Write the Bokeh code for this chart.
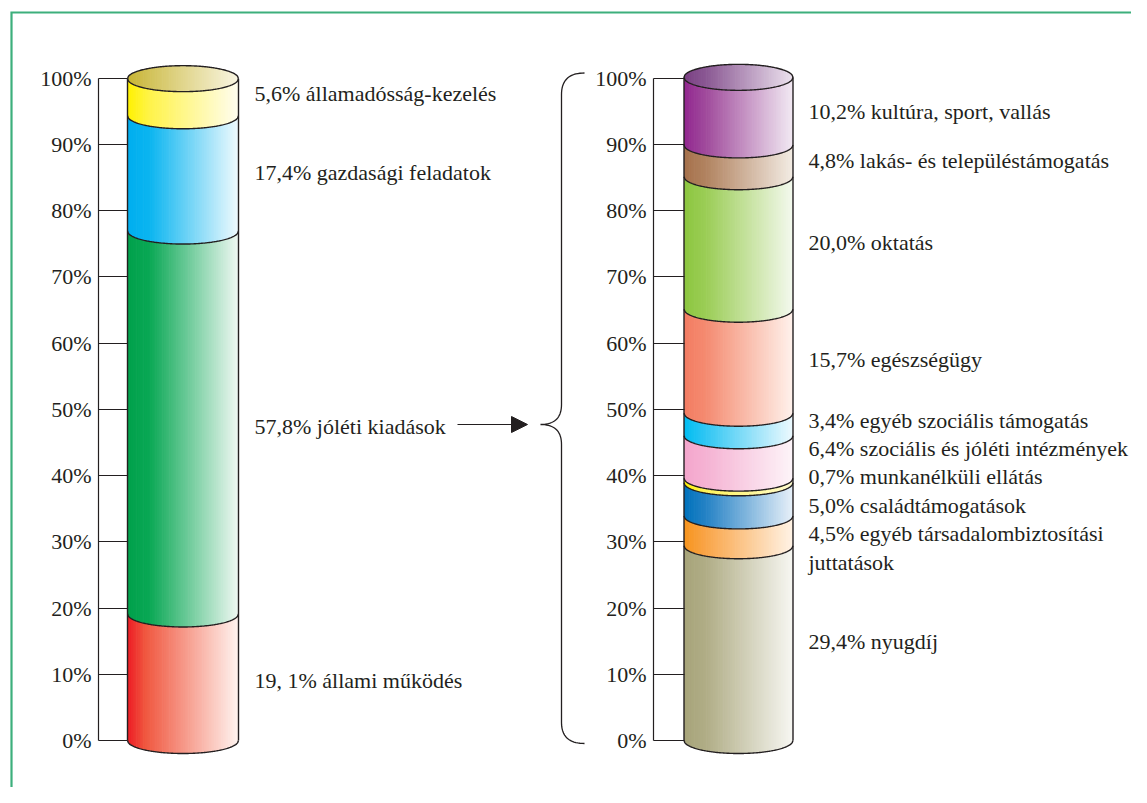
import numpy as np
from bokeh.plotting import figure
from bokeh.models import Range1d, LinearAxis, FixedTicker, Arrow, NormalHead
from bokeh.core.properties import value
from bokeh.embed import file_html
from bokeh.resources import INLINE

# ---------------- data ----------------
left_categories = ["állami működés", "jóléti kiadások", "gazdasági feladatok", "államadósság-kezelés"]
left_values = [19.1, 57.8, 17.4, 5.6]
left_labels = ["19, 1% állami működés", "57,8% jóléti kiadások",
               "17,4% gazdasági feladatok", "5,6% államadósság-kezelés"]

right_categories = ["nyugdíj", "egyéb társadalombiztosítási juttatások", "családtámogatások",
                    "munkanélküli ellátás", "szociális és jóléti intézmények",
                    "egyéb szociális támogatás", "egészségügy", "oktatás",
                    "lakás- és településtámogatás", "kultúra, sport, vallás"]
right_values = [29.4, 4.5, 5.0, 0.7, 6.4, 3.4, 15.7, 20.0, 4.8, 10.2]
right_labels = ["29,4% nyugdíj", "4,5% egyéb társadalombiztosítási\njuttatások",
                "5,0% családtámogatások", "0,7% munkanélküli ellátás",
                "6,4% szociális és jóléti intézmények", "3,4% egyéb szociális támogatás",
                "15,7% egészségügy", "20,0% oktatás", "4,8% lakás- és településtámogatás",
                "10,2% kultúra, sport, vallás"]

tick_values = [0, 10, 20, 30, 40, 50, 60, 70, 80, 90, 100]
tick_labels = ["0%", "10%", "20%", "30%", "40%", "50%", "60%", "70%", "80%", "90%", "100%"]

# ---------------- styles / layout ----------------
left_grads = [
    [(0, "#ed1c24"), (0.16, "#f0573f"), (1, "#fff4f0")],
    [(0, "#00a14b"), (0.2, "#0aa855"), (1, "#f0f8f3")],
    [(0, "#00aeef"), (0.2, "#0bb5f0"), (1, "#f0fafe")],
    [(0, "#fff200"), (0.2, "#fff34a"), (1, "#fffdf0")],
]
left_cap = [(0, "#c8b432"), (0.2, "#d2c259"), (1, "#f9f6e2")]

right_grads = [
    [(0, "#a7a47a"), (0.2, "#b0ad86"), (1, "#f7f7f2")],
    [(0, "#f7941d"), (0.2, "#f9a548"), (1, "#fff3e6")],
    [(0, "#0072bc"), (0.2, "#2582c5"), (1, "#e8f0f9")],
    [(0, "#fff200"), (0.2, "#fff35a"), (1, "#fffbd0")],
    [(0, "#f4a6cc"), (0.2, "#f5b2d3"), (1, "#fdf5f9")],
    [(0, "#00bdf2"), (0.2, "#30c6f3"), (1, "#eef9fe")],
    [(0, "#f37c62"), (0.2, "#f48b71"), (1, "#fff2ec")],
    [(0, "#8cc63f"), (0.2, "#9bcd56"), (1, "#f4f9ee")],
    [(0, "#a6714c"), (0.2, "#b18360"), (1, "#f3ece4")],
    [(0, "#92278f"), (0.2, "#a04b9c"), (1, "#f2eaf3")],
]
right_cap = [(0, "#7a3f83"), (0.2, "#8a5893"), (1, "#ece2ee")]

INK = "#231f20"
FONT = "Liberation Serif"
FSIZE = "22px"

W, H = 1131, 787
Y0_PX, Y100_PX = 740.0, 77.5
PX_PER_PCT = (Y0_PX - Y100_PX) / 100.0


def pct_at(py):
    return (Y0_PX - py) / PX_PER_PCT


RY = 13.0 / PX_PER_PCT

p = figure(width=W, height=H, output_backend="svg", toolbar_location=None,
           x_range=Range1d(0, W), y_range=Range1d(pct_at(H), pct_at(0)),
           x_axis_type=None, y_axis_type=None, min_border=0)
p.outline_line_color = None
p.background_fill_color = "white"
p.border_fill_color = "white"

# green frame
p.line([11, 11, W + 5], [pct_at(H + 5), pct_at(12), pct_at(12)],
       line_color="#3daf7c", line_width=2.2, line_join="miter")


def hex2rgb(h):
    h = h.lstrip("#")
    return np.array([int(h[i:i + 2], 16) for i in (0, 2, 4)], dtype=float)


def grad_color(stops, t):
    for (p0, c0), (p1, c1) in zip(stops[:-1], stops[1:]):
        if t <= p1:
            f = (t - p0) / (p1 - p0) if p1 > p0 else 0
            c = hex2rgb(c0) * (1 - f) + hex2rgb(c1) * f
            return "#%02x%02x%02x" % tuple(int(round(v)) for v in c)
    return stops[-1][1]


def draw_cylinder(cx, rx, values, grads, cap, n=64):
    cum = np.concatenate([[0.0], np.cumsum(values)])
    top = cum[-1]
    edges = np.linspace(cx - rx, cx + rx, n + 1)

    def sag(x):
        return RY * np.sqrt(np.clip(1 - ((x - cx) / rx) ** 2, 0, 1))

    pxs, pys, cols = [], [], []
    for i in range(len(values)):
        lo, hi = cum[i], cum[i + 1]
        for k in range(n):
            x0 = edges[k]
            x1 = min(edges[k + 1] + 0.7, cx + rx)
            t = (k + 0.5) / n
            pxs.append([x0, x1, x1, x0])
            pys.append([lo - sag(x0), lo - sag(x1), hi - sag(x1), hi - sag(x0)])
            cols.append(grad_color(grads[i], t))
    # top cap (full ellipse)
    for k in range(n):
        x0 = edges[k]
        x1 = min(edges[k + 1] + 0.7, cx + rx)
        t = (k + 0.5) / n
        pxs.append([x0, x1, x1, x0])
        pys.append([top - sag(x0), top - sag(x1), top + sag(x1), top + sag(x0)])
        cols.append(grad_color(cap, t))
    p.patches(pxs, pys, fill_color=cols, line_color=None)

    # outlines
    xf = np.linspace(cx - rx, cx + rx, 120)
    arcs_x, arcs_y = [], []
    for v in cum:
        arcs_x.append(xf)
        arcs_y.append(v - sag(xf))
    arcs_x.append(xf)
    arcs_y.append(top + sag(xf))
    arcs_x.append([cx - rx, cx - rx])
    arcs_y.append([0, top])
    arcs_x.append([cx + rx, cx + rx])
    arcs_y.append([0, top])
    p.multi_line(arcs_x, arcs_y, line_color=INK, line_width=1.4)


draw_cylinder(182.5, 55.5, left_values, left_grads, left_cap)
draw_cylinder(738.0, 54.5, right_values, right_grads, right_cap)

# labels (pixel y-positions are layout)
left_label_py = [680, 426, 172, 93]
right_label_py = [641, 533, 505, 476, 448, 420, 359, 242, 160, 111]
LINE_GAP = 29


def place_labels(x, labels, pys):
    tx, ty, tt = [], [], []
    for lab, py in zip(labels, pys):
        for j, line in enumerate(lab.split("\n")):
            tx.append(x)
            ty.append(pct_at(py + j * LINE_GAP))
            tt.append(line)
    p.text(tx, ty, text=tt, text_font=value(FONT), text_font_size=value(FSIZE),
           text_color=INK, text_baseline="middle", text_align="left")


place_labels(254, left_labels, left_label_py)
place_labels(808, right_labels, right_label_py)

# axes
for xloc, tick_in in ((98, 29), (653, 31)):
    ax = LinearAxis(fixed_location=xloc, bounds=(0, 100), ticker=FixedTicker(ticks=tick_values),
                    major_label_overrides=dict(zip(tick_values, tick_labels)))
    ax.major_tick_in = tick_in
    ax.major_tick_out = 0
    ax.minor_tick_in = 0
    ax.minor_tick_out = 0
    ax.axis_line_color = INK
    ax.axis_line_width = 1.2
    ax.major_tick_line_color = INK
    ax.major_tick_line_width = 1.2
    ax.major_label_standoff = 7
    ax.major_label_text_font = FONT
    ax.major_label_text_font_size = FSIZE
    ax.major_label_text_color = INK
    p.add_layout(ax, "left")

# arrow from the "jóléti kiadások" label
arrow_y = pct_at(424)
p.add_layout(Arrow(end=NormalHead(size=16, fill_color=INK, line_color=INK),
                   x_start=457, y_start=arrow_y, x_end=527, y_end=arrow_y,
                   line_color=INK, line_width=1.2))


# curly brace
def qbez(p0, c, p1, n=20):
    t = np.linspace(0, 1, n)[:, None]
    pts = (1 - t) ** 2 * np.array(p0) + 2 * (1 - t) * t * np.array(c) + t ** 2 * np.array(p1)
    return pts


segs = [
    qbez((584, 72.5), (561, 72.5), (561, 94)),
    np.array([(561, 94), (561, 404)]),
    qbez((561, 404), (561, 424), (540, 424)),
    qbez((540, 424), (561, 424), (561, 444)),
    np.array([(561, 444), (561, 722)]),
    qbez((561, 722), (561, 743), (584, 743)),
]
bp = np.vstack(segs)
p.line(bp[:, 0], [pct_at(v) for v in bp[:, 1]], line_color=INK, line_width=1.3)

open("out.html", "w").write(file_html(p, INLINE))
